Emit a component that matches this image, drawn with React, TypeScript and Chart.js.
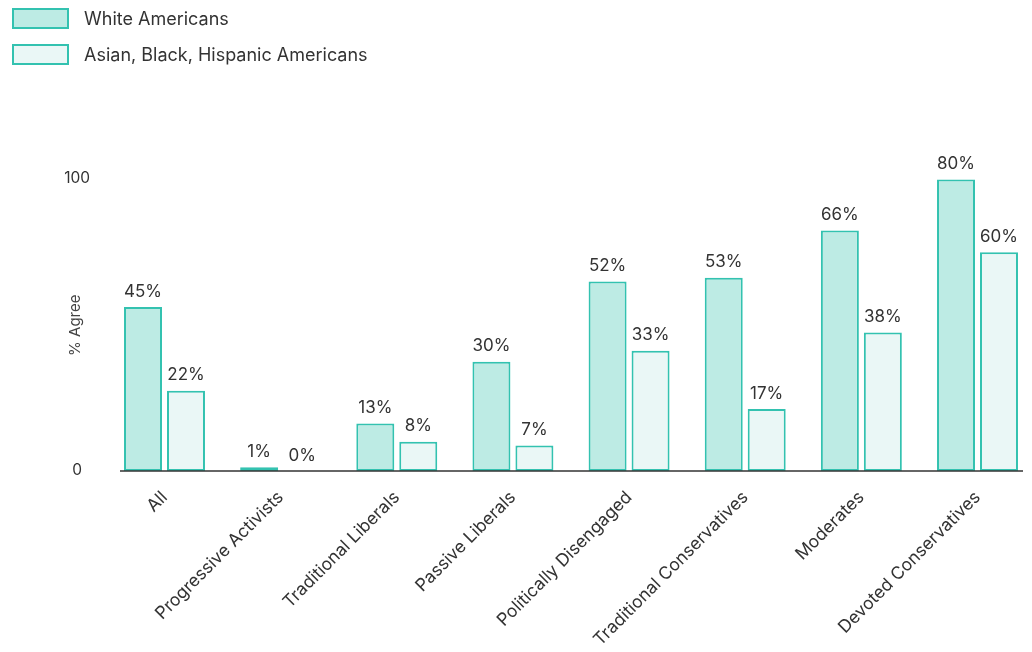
import React, { useEffect, useRef } from "react";
import { Chart, registerables } from "chart.js";

Chart.register(...registerables);

const categories = [
  "All",
  "Progressive Activists",
  "Traditional Liberals",
  "Passive Liberals",
  "Politically Disengaged",
  "Traditional Conservatives",
  "Moderates",
  "Devoted Conservatives",
];
const whiteValues = [45, 1, 13, 30, 52, 53, 66, 80];
const minorityValues = [22, 0, 8, 7, 33, 17, 38, 60];
const seriesNames = ["White Americans", "Asian, Black, Hispanic Americans"];
const yTickValues = [0, 80];
const yTickLabels = ["0", "100"];
const yAxisTitle = "% Agree";

const FONT = "Inter";
const TEXT = "#333333";
const BORDER = "#33c2b0";
const FILLS = ["#bdebe4", "#eaf7f6"];

const W = 1016;
const H = 644;

const overlayPlugin = {
  id: "overlay",
  afterDatasetsDraw(chart: any) {
    const ctx = chart.ctx;
    const area = chart.chartArea;
    ctx.save();
    const y0 = chart.scales.y.getPixelForValue(0);
    ctx.strokeStyle = "#333333";
    ctx.lineWidth = 1.5;
    ctx.beginPath();
    ctx.moveTo(area.left - 44.5, y0);
    ctx.lineTo(area.right + 45.5, y0);
    ctx.stroke();

    ctx.font = `17px ${FONT}`;
    ctx.fillStyle = TEXT;
    ctx.textAlign = "center";
    ctx.textBaseline = "bottom";
    chart.data.datasets.forEach((ds: any, i: number) => {
      const meta = chart.getDatasetMeta(i);
      meta.data.forEach((bar: any, j: number) => {
        ctx.fillText(`${ds.data[j]}%`, bar.x, bar.y - 7);
      });
    });
    ctx.restore();
  },
};

function ChartCanvas() {
  const ref = useRef<HTMLCanvasElement | null>(null);
  useEffect(() => {
    if (!ref.current) return;
    const chart = new Chart(ref.current, {
      type: "bar",
      data: {
        labels: categories,
        datasets: [
          {
            label: seriesNames[0],
            data: whiteValues,
            backgroundColor: FILLS[0],
            borderColor: BORDER,
            borderWidth: 2,
            borderSkipped: false,
            clip: false,
          } as any,
          {
            label: seriesNames[1],
            data: minorityValues,
            backgroundColor: FILLS[1],
            borderColor: BORDER,
            borderWidth: 2,
            borderSkipped: false,
            clip: false,
          } as any,
        ],
      },
      options: {
        animation: false,
        responsive: true,
        maintainAspectRatio: false,
        layout: { padding: { top: 171.4, right: 46.5, left: 0, bottom: 0 } },
        datasets: {
          bar: { categoryPercentage: 0.74, barPercentage: 0.884 },
        },
        plugins: {
          legend: { display: false },
          tooltip: { enabled: false },
        },
        scales: {
          x: {
            type: "category",
            offset: false,
            grid: { display: false },
            border: { display: false },
            ticks: {
              autoSkip: false,
              minRotation: 45,
              maxRotation: 45,
              color: TEXT,
              font: { family: FONT, size: 17.5 },
              padding: 8,
            },
            afterFit(scale: any) {
              scale.height = H - 463;
            },
          },
          y: {
            min: 0,
            max: 80,
            grid: { display: false },
            border: { display: false },
            afterBuildTicks(scale: any) {
              scale.ticks = yTickValues.map((v) => ({ value: v }));
            },
            ticks: {
              crossAlign: "center",
              padding: 66.5,
              labelOffset: -1,
              color: TEXT,
              font: { family: FONT, size: 15.5 },
              callback: (_v: any, i: number) => yTickLabels[i],
            },
            title: {
              display: true,
              text: yAxisTitle,
              color: "#444444",
              font: { family: FONT, size: 15 },
              padding: { top: 58, bottom: 0 },
            },
            afterFit(scale: any) {
              scale.width = 156.5;
            },
          },
        },
      },
      plugins: [overlayPlugin],
    } as any);
    return () => chart.destroy();
  }, []);
  return <canvas ref={ref} />;
}

function LegendItem({ color, label, top }: { color: string; label: string; top: number }) {
  return (
    <div
      style={{
        position: "absolute",
        left: 4,
        top,
        height: 21,
        display: "flex",
        alignItems: "center",
      }}
    >
      <div
        style={{
          width: 57,
          height: 21,
          boxSizing: "border-box",
          background: color,
          border: `2px solid ${BORDER}`,
        }}
      />
      <span
        style={{
          marginLeft: 15,
          fontFamily: FONT,
          fontSize: 18,
          color: TEXT,
          whiteSpace: "nowrap",
          lineHeight: "21px",
        }}
      >
        {label}
      </span>
    </div>
  );
}

export default function App() {
  return (
    <div style={{ position: "relative", width: W, height: H, marginBottom: -8, overflow: "hidden" }}>
      <div style={{ position: "absolute", left: 0, top: 0, width: W, height: H }}>
        <ChartCanvas />
      </div>
      <LegendItem color={FILLS[0]} label={seriesNames[0]} top={0} />
      <LegendItem color={FILLS[1]} label={seriesNames[1]} top={36} />
    </div>
  );
}
